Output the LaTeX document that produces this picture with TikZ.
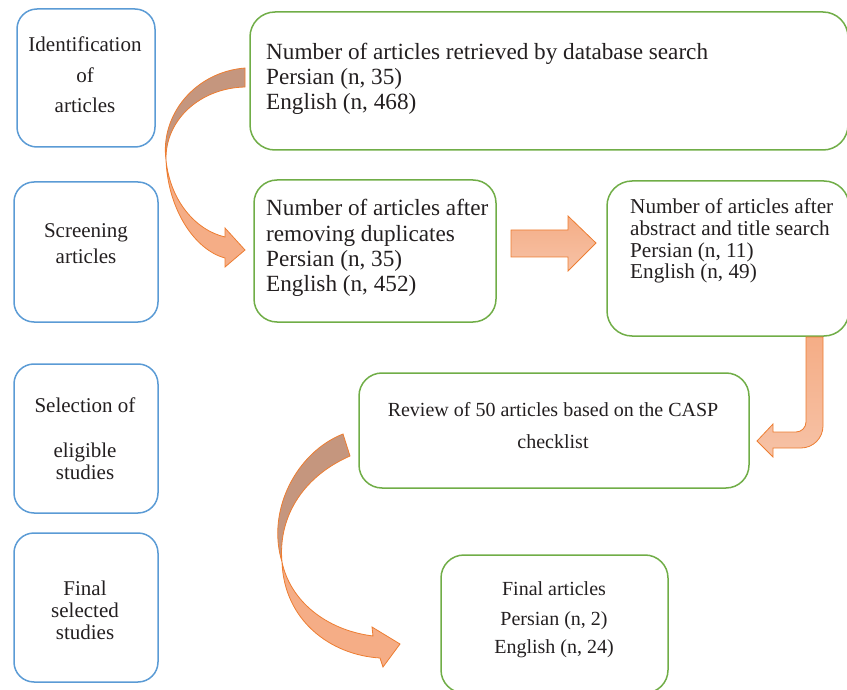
\documentclass[tikz,border=0pt]{standalone}
\usepackage{fontspec}
\setmainfont{Liberation Serif}
\definecolor{stageblue}{RGB}{91,155,213}
\definecolor{boxgreen}{RGB}{112,173,71}
\definecolor{inkgray}{RGB}{35,31,32}
\definecolor{arrowedge}{RGB}{237,125,49}
\definecolor{arrowlight}{RGB}{245,173,134}
\definecolor{arrowpale}{RGB}{246,194,166}
\definecolor{arrowback}{RGB}{197,150,126}
\tikzset{
  stage/.style={draw=stageblue, line width=1.5pt, rounded corners=20pt, inner sep=0pt},
  result/.style={draw=boxgreen, line width=1.5pt, rounded corners=23pt, inner sep=0pt},
  line/.style={inner sep=0pt, text=inkgray},
  lline/.style={line, anchor=base west},
  cline/.style={line, anchor=base},
  big/.style={font=\fontsize{23.2}{25}\selectfont},
  mid/.style={font=\fontsize{21.2}{22}\selectfont},
  small/.style={font=\fontsize{20}{22}\selectfont},
  side/.style={font=\fontsize{21}{22}\selectfont},
  blockarrow/.style={draw=arrowedge, line width=0.8pt, line join=miter},
}
\begin{document}
\begin{tikzpicture}[x=1pt,y=-1pt]
\useasboundingbox (0,0) rectangle (847,690);

% stage boxes on the left
\node[stage, minimum width=138pt, minimum height=138pt] (idbox) at (86,78) {};
\node[stage, minimum width=144pt, minimum height=140pt] (scrbox) at (86,252) {};
\node[stage, minimum width=144pt, minimum height=149pt] (selbox) at (86,438.5) {};
\node[stage, minimum width=144pt, minimum height=149pt] (finbox) at (86,607.5) {};

\node[cline, side] (id1) at (85,52) {Identification};
\node[cline, side] (id2) at (85,83) {of};
\node[cline, side] (id3) at (85,113) {articles};
\node[cline, side] (sc1) at (86,237) {Screening};
\node[cline, side] (sc2) at (86,263) {articles};
\node[cline, side] (se1) at (85,412) {Selection of};
\node[cline, side] (se2) at (85,457) {eligible};
\node[cline, side] (se3) at (85,479) {studies};
\node[cline, side] (fi1) at (85,595) {Final};
\node[cline, side] (fi2) at (85,617) {selected};
\node[cline, side] (fi3) at (85,639) {studies};

% result boxes
\node[result, rounded corners=25pt, minimum width=598pt, minimum height=138pt] (dbbox) at (549,81) {};
\node[result, minimum width=242pt, minimum height=142pt] (dupbox) at (375,251) {};
\node[result, rounded corners=25pt, minimum width=242pt, minimum height=155pt] (absbox) at (728,258.5) {};
\node[result, minimum width=390pt, minimum height=115pt] (revbox) at (554,430.5) {};
\node[result, minimum width=227pt, minimum height=138pt] (artbox) at (554.5,624) {};

\node[lline, big] (db1) at (266,60) {Number of articles retrieved by database search};
\node[lline, big] (db2) at (266,85) {Persian (n, 35)};
\node[lline, big] (db3) at (266,110) {English (n, 468)};

\node[lline, big] (du1) at (266,216) {Number of articles after};
\node[lline, big] (du2) at (266,241) {removing duplicates};
\node[lline, big] (du3) at (266,266) {Persian (n, 35)};
\node[lline, big] (du4) at (266,291) {English (n, 452)};

\node[lline, mid] (ab1) at (630,214) {Number of articles after};
\node[lline, mid] (ab2) at (630,236) {abstract and title search};
\node[lline, mid] (ab3) at (630,258) {Persian (n, 11)};
\node[lline, mid] (ab4) at (630,279) {English (n, 49)};

\node[cline, small] (rv1) at (553,416) {Review of 50 articles based on the CASP};
\node[cline, small] (rv2) at (553,448) {checklist};

\node[cline, small] (fa1) at (554,595) {Final articles};
\node[cline, small] (fa2) at (554,625) {Persian (n, 2)};
\node[cline, small] (fa3) at (554,653) {English (n, 24)};

% curved arrow from the database box down to the duplicates box
\path[blockarrow, fill=arrowback]
  (245,68) .. controls (195,72) and (160,115) .. (166,160)
  .. controls (165,120) and (200,88) .. (245,87) -- cycle;
\path[blockarrow, fill=arrowlight]
  (166,160) .. controls (168,210) and (195,250) .. (225,258)
  -- (225,267) -- (245,250) -- (225,228) -- (225,237)
  .. controls (195,230) and (170,200) .. (166,160) -- cycle;

% straight arrow between the screening boxes
\path[blockarrow, top color=arrowlight, bottom color=arrowpale]
  (511,230) -- (568,230) -- (568,216) -- (596,243) -- (568,271)
  -- (568,257) -- (511,257) -- cycle;

% bent arrow down to the review box
\path[blockarrow, top color=arrowlight, bottom color=arrowpale]
  (806,337) -- (806,422) .. controls (806,427.5) and (801.5,432) .. (796,432)
  -- (773,432) -- (773,424) -- (757,441) -- (773,457) -- (773,448)
  -- (801,448) .. controls (813.1,448) and (823,438.1) .. (823,426)
  -- (823,337) -- cycle;

% curved arrow from the review box down to the final articles
\path[blockarrow, fill=arrowback]
  (343,434) .. controls (297,452) and (266,510) .. (282,562)
  .. controls (278,520) and (300,478) .. (350,456) -- cycle;
\path[blockarrow, fill=arrowlight]
  (282,562) .. controls (284,620) and (330,655) .. (380,658)
  -- (383,667) -- (400,644) -- (372,627) -- (373,636)
  .. controls (325,630) and (290,600) .. (282,562) -- cycle;
\end{tikzpicture}
\end{document}
